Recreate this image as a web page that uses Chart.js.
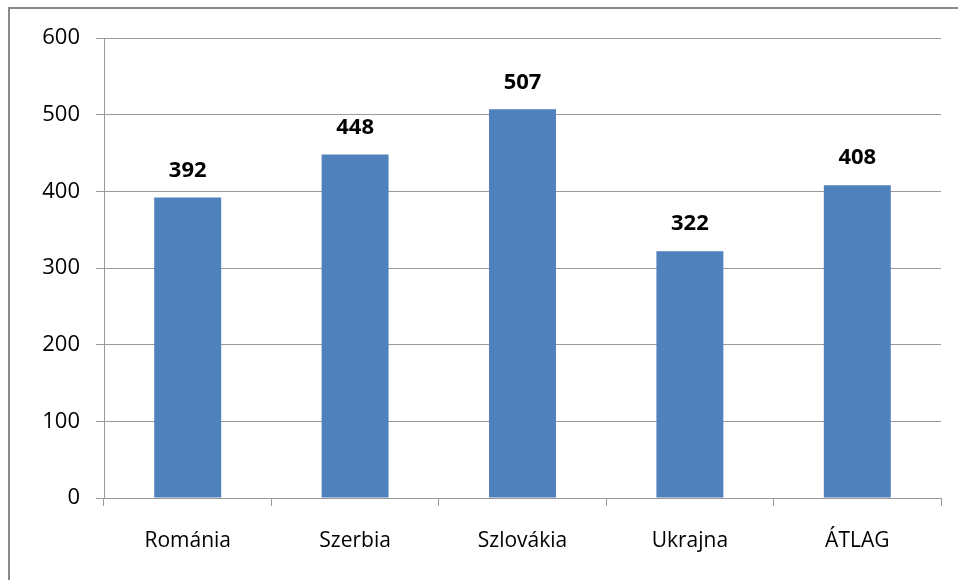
<!DOCTYPE html>
<html><head><meta charset="utf-8">
<script src="https://cdn.jsdelivr.net/npm/chart.js@4"></script>
<style>html,body{margin:0;padding:0;background:#fff}#w{width:958px;height:580px;position:relative}</style>
</head><body><div id="w"><canvas id="c" width="958" height="580"></canvas></div>
<script>
const categories = ["Románia", "Szerbia", "Szlovákia", "Ukrajna", "ÁTLAG"];
const values = [392, 448, 507, 322, 408];
const yTicks = [0, 100, 200, 300, 400, 500, 600];

const FONT = "'Open Sans', 'Liberation Sans', sans-serif";

const frame = {
  id: 'frame',
  beforeDraw(chart) {
    const ctx = chart.ctx;
    ctx.save();
    ctx.fillStyle = '#fff';
    ctx.fillRect(0, 0, chart.width, chart.height);
    ctx.strokeStyle = '#8a8a8a';
    ctx.lineWidth = 2;
    ctx.strokeRect(9, 8, 1000, 1000);
    ctx.restore();
  }
};
const labels = {
  id: 'labels',
  afterDatasetsDraw(chart) {
    const ctx = chart.ctx;
    const meta = chart.getDatasetMeta(0);
    ctx.save();
    ctx.font = "bold 22px " + FONT;
    ctx.fillStyle = '#000';
    ctx.textAlign = 'center';
    ctx.textBaseline = 'middle';
    meta.data.forEach((bar, i) => {
      ctx.fillText(String(values[i]), bar.x, bar.y - 27);
    });
    ctx.restore();
  }
};

new Chart(document.getElementById('c'), {
  type: 'bar',
  data: {
    labels: categories,
    datasets: [{ data: values, backgroundColor: '#4f81bd', barPercentage: 0.4, categoryPercentage: 1.0 }]
  },
  options: {
    responsive: false,
    animation: false,
    devicePixelRatio: 1,
    layout: { padding: { top: 38, right: 17, left: 0, bottom: 0 } },
    plugins: { legend: { display: false }, tooltip: { enabled: false } },
    scales: {
      y: {
        min: 0, max: 600,
        afterBuildTicks: (s) => { s.ticks = yTicks.map(v => ({ value: v })); },
        afterFit: (s) => { s.width = 104; },
        border: { display: true, color: '#9a9a9a', width: 1 },
        grid: { color: '#9a9a9a', lineWidth: 1, tickLength: 8, drawTicks: true },
        ticks: { color: '#000', font: { family: FONT, size: 22 }, padding: 16 }
      },
      x: {
        afterFit: (s) => { s.height = 82; },
        border: { display: true, color: '#9a9a9a', width: 1 },
        grid: { offset: true, drawOnChartArea: false, color: '#9a9a9a', tickLength: 8 },
        ticks: { color: '#000', font: { family: FONT, size: 21 }, padding: 22 }
      }
    }
  },
  plugins: [frame, labels]
});
</script></body></html>
